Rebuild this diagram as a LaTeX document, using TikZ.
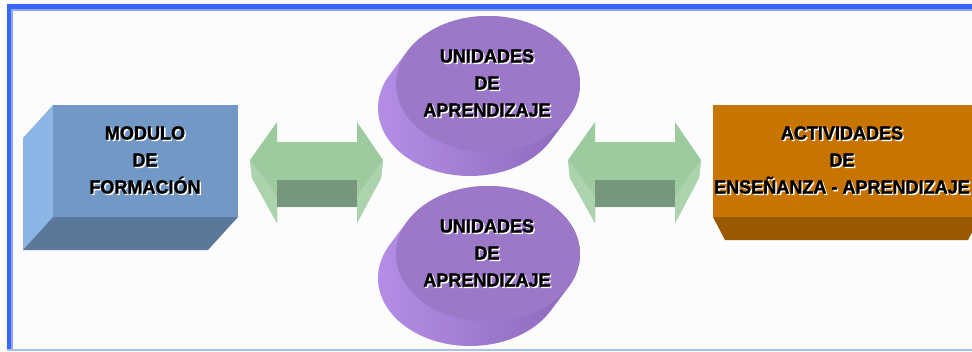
\documentclass[tikz,border=0pt]{standalone}
\usepackage{fontspec}
\setmainfont{Liberation Sans}
\newfontfamily\labelfont{Liberation Sans}[FakeBold=1.2, FakeStretch=0.95]
\definecolor{framedark}{RGB}{58,102,245}
\definecolor{framelight}{RGB}{140,168,245}
\definecolor{framebottom}{RGB}{168,192,240}
\definecolor{boxfront}{RGB}{114,152,197}
\definecolor{boxside}{RGB}{138,181,228}
\definecolor{boxbottom}{RGB}{90,121,154}
\definecolor{orfront}{RGB}{200,116,0}
\definecolor{orbottom}{RGB}{154,88,0}
\definecolor{arrowtop}{RGB}{157,203,159}
\definecolor{arrowface}{RGB}{118,151,124}
\definecolor{disctop}{RGB}{155,120,200}
\definecolor{discsideL}{RGB}{180,142,230}
\definecolor{discsideR}{RGB}{138,104,186}
% text set twice: a white copy below and to the right, then the black text
\newcommand\embossed[3]{%
  \node[txt, text=white, xshift=1.4pt, yshift=-1.4pt] at (#2) {#3};
  \node[txt] (#1) at (#2) {#3};}
% a disc seen from above: side swept down-left, then the top face
\newcommand\disc[2]{%
  \shade[left color=discsideL, right color=discsideR]
    \foreach \k in {0,...,24} { (#1-0.75*\k, #2+1.0*\k) ellipse [x radius=92pt, y radius=68pt] };
  \fill[disctop] (#1,#2) ellipse [x radius=92pt, y radius=68pt];}
% a double arrow block with its left tip at (#1,160)
\newcommand\dblarrow[1]{%
  \begin{scope}[xshift=#1pt]
    \fill[arrowtop] (0,160) -- (27,122) -- (27,142) -- (107,142) -- (107,122)
      -- (133,160) -- (131,178) -- (107,223) -- (107,207) -- (27,207)
      -- (27,223) -- (2,178) -- cycle;
    \fill[arrowtop!85!white] (0,160) -- (27,196) -- (27,223) -- (2,178) -- cycle;
    \fill[arrowtop!85!white] (133,160) -- (107,196) -- (107,223) -- (131,178) -- cycle;
    \fill[arrowface] (27,180) rectangle (107,207);
  \end{scope}}
\begin{document}
\begin{tikzpicture}[x=1pt, y=-1pt,
  txt/.style={font=\labelfont\bfseries\fontsize{19}{27}\selectfont, align=center,
    inner sep=0pt, text=black}]
\useasboundingbox (0,0) rectangle (972,351);
\clip (0,0) rectangle (972,351);
\fill[white!99!black] (0,0) rectangle (972,351);

% frame
\fill[framedark] (7,4) rectangle (972,9);
\fill[framelight] (11,9) rectangle (972,10.5);
\fill[framedark] (7,4) rectangle (11,351);
\fill[framelight] (11,9) rectangle (13,348.5);
\fill[framebottom] (7,348.5) rectangle (972,351);

% left block
\fill[boxside] (53,105) -- (23,138) -- (23,250) -- (53,217) -- cycle;
\fill[boxbottom] (53,217) -- (238,217) -- (208,250) -- (23,250) -- cycle;
\fill[boxfront] (53,105) rectangle (238,217);
\embossed{modulo}{145,160}{MODULO\\DE\\FORMACIÓN}

% discs
\disc{488}{84}
\embossed{ua1}{487,83}{UNIDADES\\DE\\APRENDIZAJE}
\disc{488}{254}
\embossed{ua2}{487,253}{UNIDADES\\DE\\APRENDIZAJE}

% double arrows
\dblarrow{250}
\dblarrow{568}

% right block
\fill[orbottom] (713,217) -- (980,217) -- (968,240) -- (725,240) -- cycle;
\fill[orfront] (713,105) rectangle (980,217);
\embossed{actividades}{842,160}{ACTIVIDADES\\DE\\ENSEÑANZA - APRENDIZAJE}
\end{tikzpicture}
\end{document}
